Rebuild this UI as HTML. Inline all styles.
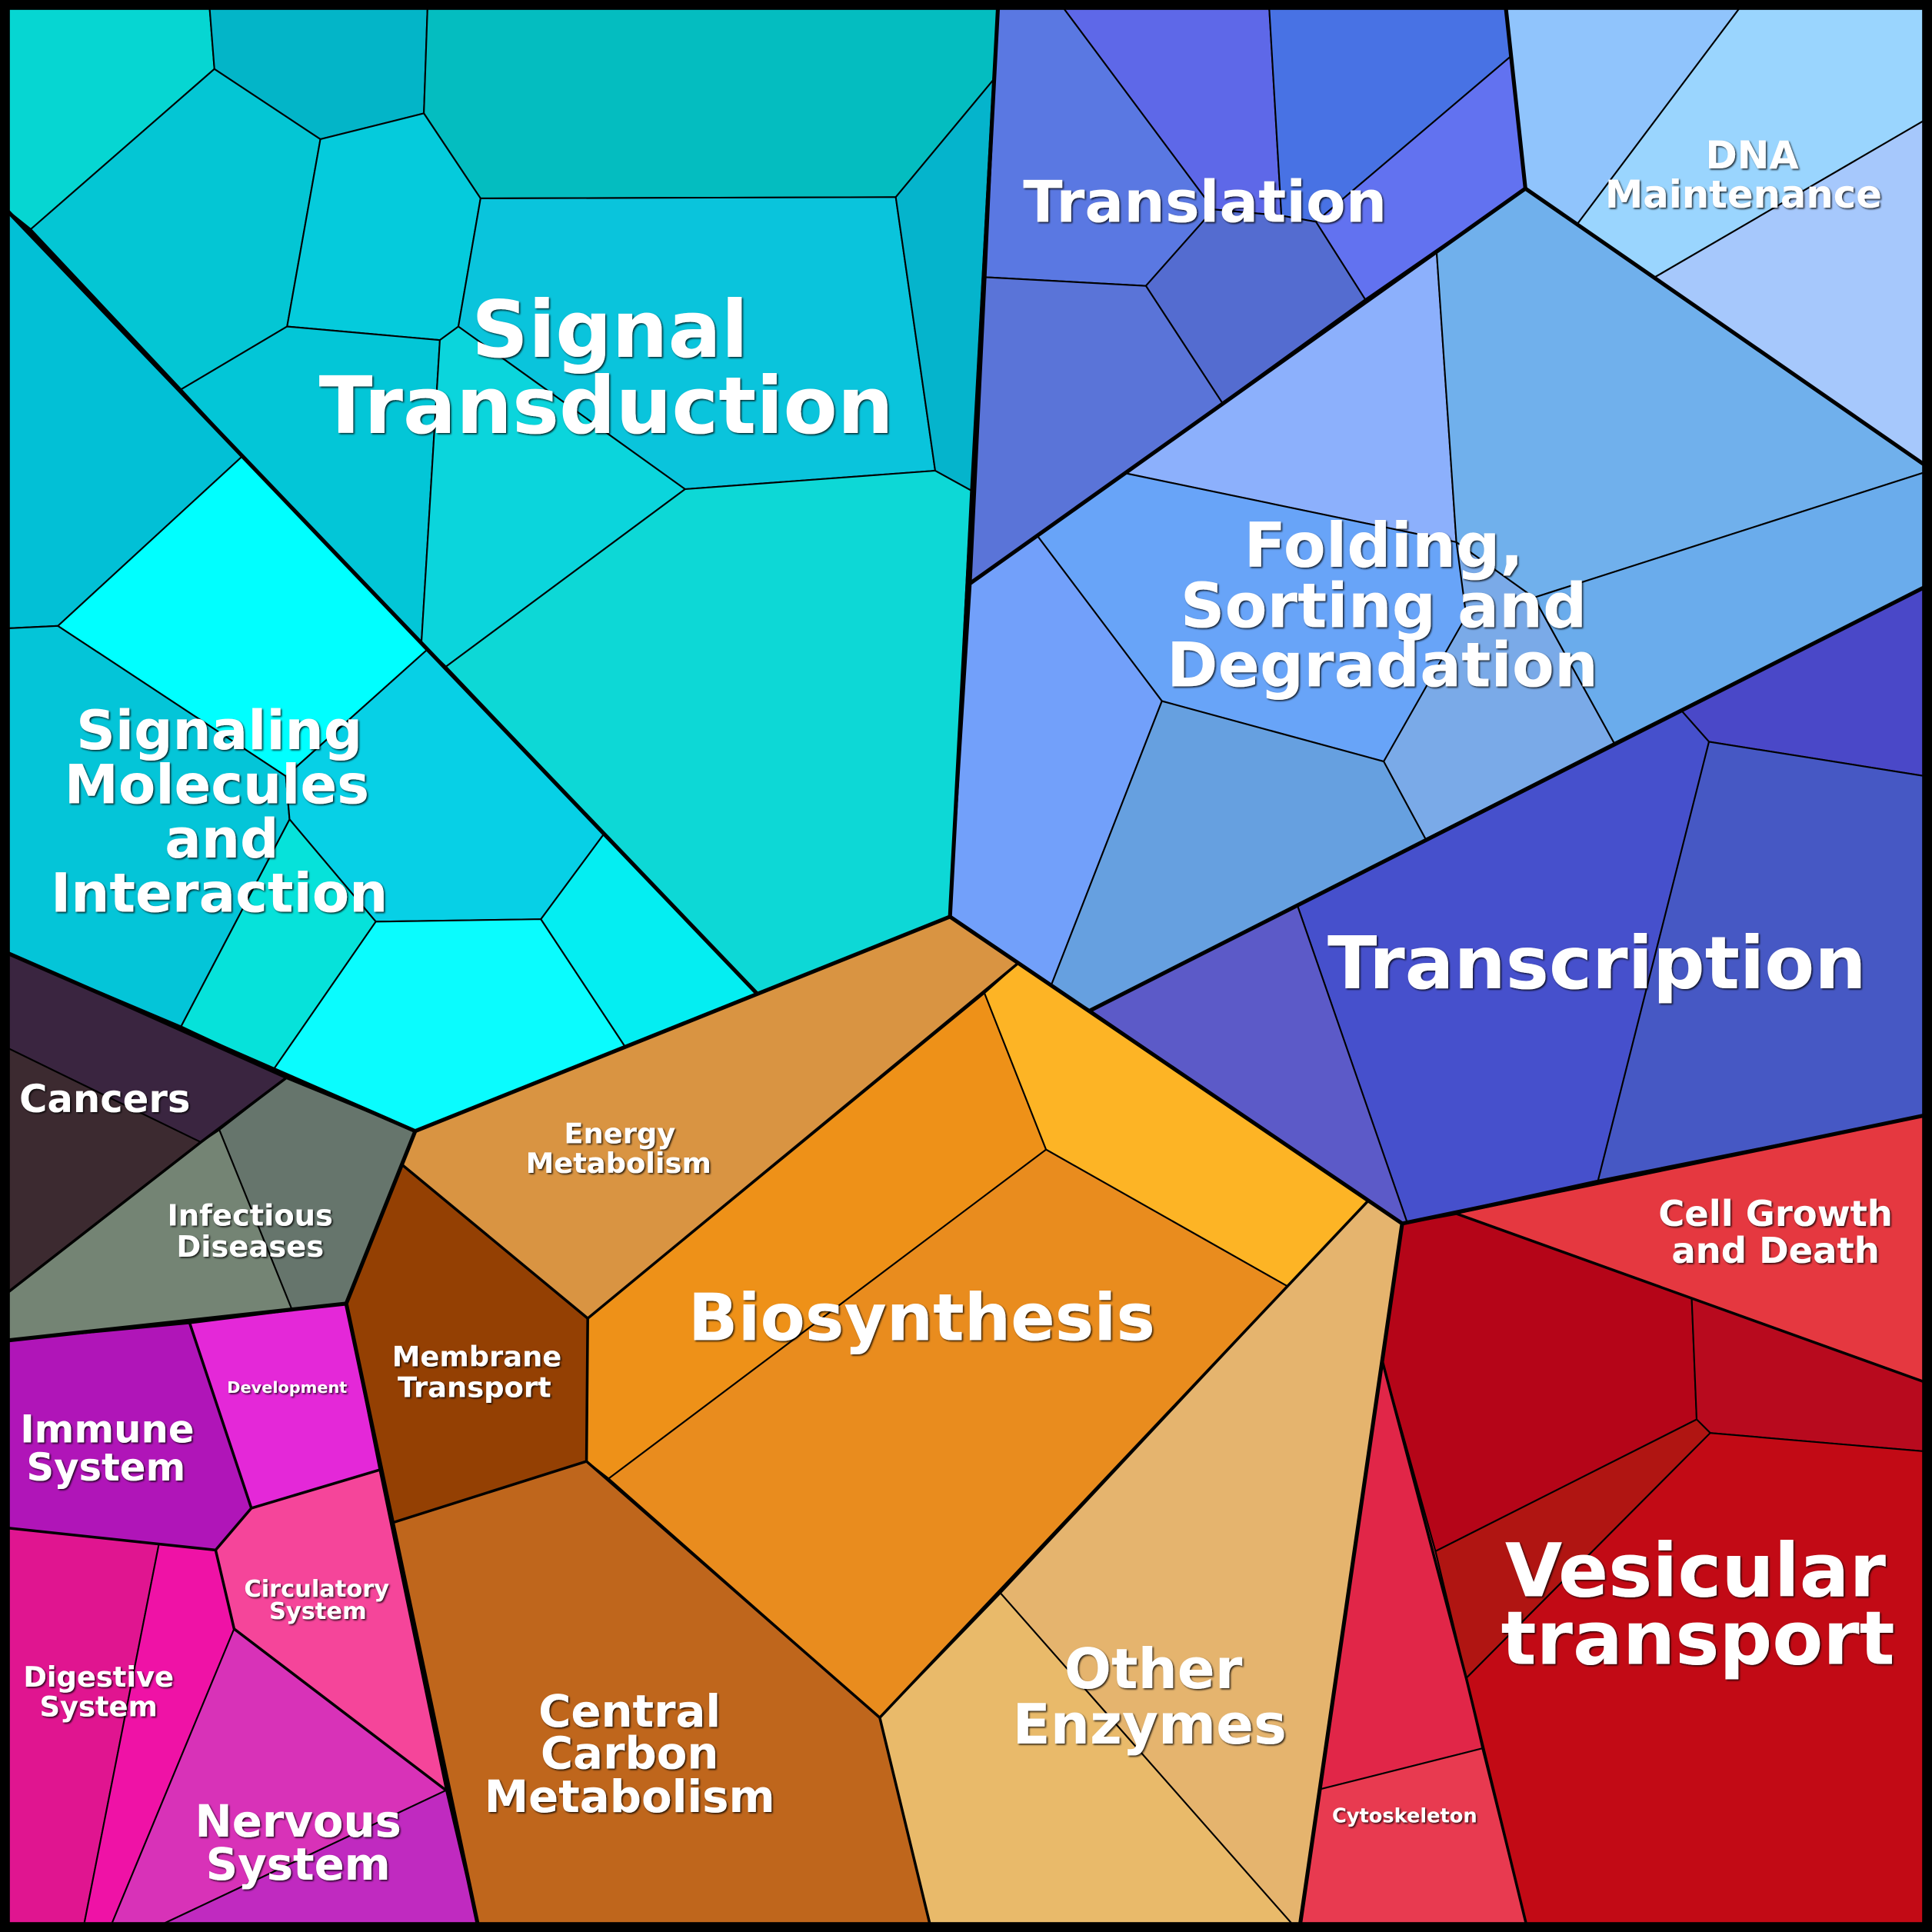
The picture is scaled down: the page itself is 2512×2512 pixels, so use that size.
<!DOCTYPE html>
<html><head><meta charset="utf-8"><style>
html,body{margin:0;padding:0;background:#000;}
svg{display:block;}
.c{stroke:#000;stroke-width:1.3;stroke-linejoin:round;}
.t{stroke:#000;stroke-width:3.2;fill:none;stroke-linejoin:round;stroke-linecap:round;}
.m{stroke:#000;stroke-width:2.2;fill:none;stroke-linejoin:round;}
text{font-family:"DejaVu Sans","Liberation Sans",sans-serif;font-weight:bold;fill:#fff;text-anchor:middle;dominant-baseline:central;filter:url(#sh);}
</style></head><body>
<svg width="2512" height="2512" viewBox="0 0 1568 1568" xmlns="http://www.w3.org/2000/svg">
<defs><filter id="sh" x="-10%" y="-20%" width="120%" height="140%"><feDropShadow dx="1" dy="1" stdDeviation="0.6" flood-color="#000" flood-opacity="0.8"/></filter></defs>
<rect width="1568" height="1568" fill="#000"/>
<polygon class="c" fill="#06d6d2" points="5,5 170,5 174,56 25,186 5,170"/>
<polygon class="c" fill="#03b5c8" points="170,5 347,5 344,92 260,113 174,56"/>
<polygon class="c" fill="#04bdc0" points="347,5 810,5 806,65 727,160 390,161 344,92"/>
<polygon class="c" fill="#04c6d4" points="174,56 260,113 233,265 147,316 25,186"/>
<polygon class="c" fill="#05cbdc" points="260,113 344,92 390,161 372,265 357,276 233,265"/>
<polygon class="c" fill="#0ac4dc" points="390,161 727,160 759,382 556,397 372,265"/>
<polygon class="c" fill="#05b4cc" points="806,65 788,398 759,382 727,160"/>
<polygon class="c" fill="#03c6d7" points="233,265 357,276 342,522 197,370 147,316"/>
<polygon class="c" fill="#0bd5dc" points="357,276 372,265 556,397 362,541 342,522"/>
<polygon class="c" fill="#0dd8d6" points="556,397 759,382 788,398 771,744 614,806 362,541"/>
<polygon class="c" fill="#02c0d6" points="5,170 197,370 47,508 5,510"/>
<polygon class="c" fill="#00ffff" points="47,508 197,370 347,527 232,630"/>
<polygon class="c" fill="#04c5d8" points="5,510 47,508 232,630 235,665 147,833 5,773"/>
<polygon class="c" fill="#07d0e6" points="232,630 347,527 490,677 439,746 305,748 235,665"/>
<polygon class="c" fill="#06e2da" points="235,665 305,748 222,868 147,833"/>
<polygon class="c" fill="#0afcfe" points="305,748 439,746 507,849 337,918 222,868"/>
<polygon class="c" fill="#04eef2" points="439,746 490,677 614,806 507,849"/>
<polygon class="c" fill="#3a2540" points="5,773 232,875 163,927 5,850"/>
<polygon class="c" fill="#3c2a30" points="5,850 163,927 5,1050"/>
<polygon class="c" fill="#66756c" points="232,875 337,918 281,1058 237,1063 178,917"/>
<polygon class="c" fill="#748474" points="163,927 178,917 237,1063 5,1088 5,1050"/>
<polygon class="c" fill="#b015b8" points="5,1088 154,1074 204,1224 175,1258 5,1240"/>
<polygon class="c" fill="#e428d8" points="154,1074 281,1058 308,1193 204,1224"/>
<polygon class="c" fill="#f5459a" points="204,1224 308,1193 362,1453 190,1322 175,1258"/>
<polygon class="c" fill="#e01590" points="5,1240 129,1253 68,1563 5,1563"/>
<polygon class="c" fill="#ef12a6" points="129,1253 175,1258 190,1322 90,1563 68,1563"/>
<polygon class="c" fill="#d832b8" points="190,1322 362,1453 129,1563 90,1563"/>
<polygon class="c" fill="#c02ac0" points="362,1453 388,1563 129,1563"/>
<polygon class="c" fill="#944003" points="326,945 477,1070 476,1186 318,1236 281,1058"/>
<polygon class="c" fill="#d99442" points="337,918 771,744 826,782 477,1070 326,945"/>
<polygon class="c" fill="#ee9118" points="477,1070 799,806 849,933 494,1200 476,1186"/>
<polygon class="c" fill="#fdb425" points="826,782 1110,975 1045,1044 849,933 799,806"/>
<polygon class="c" fill="#e98c1e" points="849,933 1045,1044 714,1394 494,1200"/>
<polygon class="c" fill="#bf661c" points="318,1236 476,1186 714,1394 755,1563 388,1563"/>
<polygon class="c" fill="#e5b46e" points="1110,975 1138,993 1055,1563 1050,1563 812,1293 1045,1044"/>
<polygon class="c" fill="#e9ba6a" points="714,1394 812,1293 1050,1563 755,1563"/>
<polygon class="c" fill="#5a78e2" points="810,5 862,5 985,170 930,232 800,225"/>
<polygon class="c" fill="#5e68e8" points="862,5 1030,5 1040,175 985,170"/>
<polygon class="c" fill="#4872e4" points="1030,5 1222,5 1227,45 1068,180 1040,175"/>
<polygon class="c" fill="#6272f0" points="1227,45 1238,153 1108,243 1068,180"/>
<polygon class="c" fill="#546cd0" points="985,170 1040,175 1068,180 1108,243 992,327 930,232"/>
<polygon class="c" fill="#5a74d8" points="800,225 930,232 992,327 788,473"/>
<polygon class="c" fill="#90c4fc" points="1222,5 1413,5 1280,182 1238,153"/>
<polygon class="c" fill="#9ad5fe" points="1413,5 1563,5 1563,97 1343,225 1280,182"/>
<polygon class="c" fill="#a6c8fc" points="1343,225 1563,97 1563,378"/>
<polygon class="c" fill="#7aaae8" points="1123,618 1182,440 1245,485 1310,603 1157,681"/>
<polygon class="c" fill="#8cb0fc" points="992,327 1108,243 1166,205 1182,440 913,384"/>
<polygon class="c" fill="#70b0ec" points="1166,205 1238,153 1563,378 1563,383 1245,485 1182,440"/>
<polygon class="c" fill="#68a4f8" points="913,384 1182,440 1190,500 1123,618 943,569 842,435"/>
<polygon class="c" fill="#72a0fa" points="788,473 842,435 943,569 853,800 771,744"/>
<polygon class="c" fill="#66a0e0" points="943,569 1123,618 1157,681 885,820 853,800"/>
<polygon class="c" fill="#6aacec" points="1245,485 1563,383 1563,476 1310,603"/>
<polygon class="c" fill="#4a48c8" points="1310,603 1563,476 1563,630 1387,602 1364,576"/>
<polygon class="c" fill="#4650cc" points="1157,681 1364,576 1387,602 1297,958 1142,992 1053,735"/>
<polygon class="c" fill="#4658c4" points="1387,602 1563,630 1563,905 1297,958"/>
<polygon class="c" fill="#5c5ac8" points="885,820 1053,735 1142,992 1138,993"/>
<polygon class="c" fill="#e53840" points="1182,985 1563,905 1563,1122 1373,1054"/>
<polygon class="c" fill="#b50518" points="1138,993 1182,985 1373,1054 1377,1152 1165,1259 1122,1105"/>
<polygon class="c" fill="#b80a1e" points="1373,1054 1563,1122 1563,1178 1388,1163 1377,1152"/>
<polygon class="c" fill="#b01512" points="1165,1259 1377,1152 1388,1163 1190,1362"/>
<polygon class="c" fill="#c20a15" points="1388,1163 1563,1178 1563,1563 1239,1563 1190,1362"/>
<polygon class="c" fill="#e12648" points="1122,1105 1165,1259 1190,1362 1203,1419 1072,1452"/>
<polygon class="c" fill="#e83a50" points="1072,1452 1203,1419 1239,1563 1055,1563"/>
<polyline class="m" points="326,945 477,1070 826,782"/>
<polyline class="m" points="477,1070 476,1186 318,1236"/>
<polyline class="m" points="476,1186 714,1394 755,1563"/>
<polyline class="m" points="714,1394 1110,975"/>
<polyline class="m" points="1138,993 1182,985 1563,1122"/>
<polyline class="m" points="1122,1105 1190,1362 1239,1563"/>
<polyline class="m" points="154,1074 204,1224 175,1258 5,1240"/>
<polyline class="m" points="204,1224 308,1193"/>
<polyline class="m" points="175,1258 190,1322 362,1453"/>
<polyline class="m" points="232,875 163,927 5,1050"/>
<polyline class="t" points="810,5 771,744"/>
<polyline class="t" points="5,170 614,806"/>
<polyline class="t" points="5,773 337,918 771,744 1138,993 1563,905"/>
<polyline class="t" points="1138,993 1055,1563"/>
<polyline class="t" points="337,918 281,1058 388,1563"/>
<polyline class="t" points="5,1088 281,1058"/>
<polyline class="t" points="788,473 1238,153 1222,5"/>
<polyline class="t" points="1238,153 1563,378"/>
<polyline class="t" points="885,820 1563,476"/>
<rect x="4" y="4" width="1560" height="1560" fill="none" stroke="#000" stroke-width="8"/>
<text x="495" y="268" font-size="64">Signal</text>
<text x="492" y="330" font-size="64">Transduction</text>
<text x="978" y="164" font-size="47">Translation</text>
<text x="1422" y="126" font-size="31">DNA</text>
<text x="1415" y="158" font-size="31">Maintenance</text>
<text x="1123" y="443" font-size="50">Folding,</text>
<text x="1123" y="492" font-size="50">Sorting and</text>
<text x="1122" y="540" font-size="50">Degradation</text>
<text x="1296" y="782" font-size="59">Transcription</text>
<text x="178" y="593" font-size="44">Signaling</text>
<text x="176" y="637" font-size="44">Molecules</text>
<text x="180" y="681" font-size="44">and</text>
<text x="178" y="725" font-size="44">Interaction</text>
<text x="85" y="892" font-size="31">Cancers</text>
<text x="203" y="987" font-size="24">Infectious</text>
<text x="203" y="1012" font-size="24">Diseases</text>
<text x="503" y="920" font-size="23">Energy</text>
<text x="502" y="944" font-size="23">Metabolism</text>
<text x="748" y="1070" font-size="53">Biosynthesis</text>
<text x="387" y="1101" font-size="23">Membrane</text>
<text x="385" y="1126" font-size="23">Transport</text>
<text x="233" y="1126" font-size="13">Development</text>
<text x="87" y="1160" font-size="31">Immune</text>
<text x="86" y="1191" font-size="31">System</text>
<text x="257" y="1290" font-size="19">Circulatory</text>
<text x="258" y="1308" font-size="19">System</text>
<text x="80" y="1361" font-size="23">Digestive</text>
<text x="80" y="1385" font-size="23">System</text>
<text x="242" y="1478" font-size="36">Nervous</text>
<text x="242" y="1513" font-size="36">System</text>
<text x="511" y="1389" font-size="36">Central</text>
<text x="511" y="1423" font-size="36">Carbon</text>
<text x="511" y="1458" font-size="36">Metabolism</text>
<text x="936" y="1355" font-size="45">Other</text>
<text x="933" y="1400" font-size="45">Enzymes</text>
<text x="1441" y="985" font-size="29">Cell Growth</text>
<text x="1441" y="1015" font-size="29">and Death</text>
<text x="1376" y="1275" font-size="60">Vesicular</text>
<text x="1378" y="1330" font-size="60">transport</text>
<text x="1140" y="1474" font-size="16">Cytoskeleton</text>
</svg>
</body></html>
